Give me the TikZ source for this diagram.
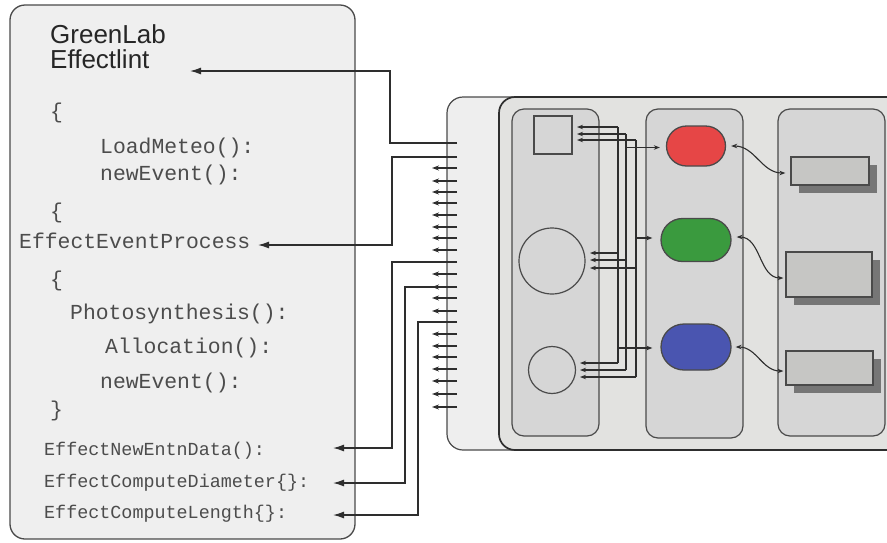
\documentclass[tikz,border=0pt]{standalone}
\usepackage{fontspec}
\setmainfont{Liberation Sans}
\setsansfont{Liberation Sans}
\setmonofont{Liberation Mono}
\usetikzlibrary{arrows.meta,calc,shapes.misc,shadows}

\definecolor{panelfill}{HTML}{EFEFEF}
\definecolor{backfill}{HTML}{EEEEEE}
\definecolor{frontfill}{HTML}{E2E2E0}
\definecolor{colfill}{HTML}{D6D6D6}
\definecolor{boxfill}{HTML}{C6C6C4}
\definecolor{shadowc}{HTML}{767676}
\definecolor{edge}{HTML}{4A4A4A}
\definecolor{wirec}{HTML}{2E2E2E}
\definecolor{codec}{HTML}{4C4C4C}
\definecolor{redov}{HTML}{E64646}
\definecolor{greenov}{HTML}{3A9A3E}
\definecolor{blueov}{HTML}{4A55B0}

\tikzset{
  wire/.style={draw=wirec, line width=1.3pt},
  bigarrow/.style={wire, -{Latex[length=11pt,width=7pt]}},
  smallarrow/.style={wire, line width=1.2pt, -{Stealth[length=6pt,width=4.5pt]}},
  tickarrow/.style={wire, line width=1.3pt, -{Stealth[length=7pt,width=5pt]}},
  bothsmall/.style={wire, line width=1.1pt, {Stealth[length=6pt,width=4.5pt]}-{Stealth[length=6pt,width=4.5pt]}},
  column/.style={draw=edge, line width=1.2pt, fill=colfill, rounded corners=12pt},
  oval/.style={rounded rectangle, draw=edge, line width=1.3pt, inner sep=0pt},
  entity/.style={draw=edge, line width=1.2pt, inner sep=0pt},
  slab/.style={draw=edge, line width=1.2pt, fill=boxfill, inner sep=0pt,
    drop shadow={shadow xshift=8pt, shadow yshift=-8pt, fill=shadowc, opacity=1}},
  code/.style={anchor=base west, inner sep=0pt, text=codec, font=\ttfamily\fontsize{21.4}{24}\selectfont},
  smallcode/.style={anchor=base west, inner sep=0pt, text=codec, font=\ttfamily\fontsize{18.4}{21}\selectfont},
  title/.style={anchor=base west, inner sep=0pt, text=black!85, font=\sffamily\fontsize{26}{28}\selectfont},
}

\begin{document}
\begin{tikzpicture}[x=1pt, y=-1pt]
\useasboundingbox (0,0) rectangle (887,542);

% ---------- code panel ----------
\draw[draw=edge, line width=1.3pt, fill=panelfill, rounded corners=15pt] (10,5) rectangle (355,539);

\node[title] (t1) at (50,43) {GreenLab};
\node[title] (t2) at (50,68) {Effectlint};
\node[code] (b1) at (50,118) {\{};
\node[code] (c1) at (100,153) {LoadMeteo():};
\node[code] (c2) at (100,180) {newEvent():};
\node[code] (b2) at (50,218) {\{};
\node[code] (c3) at (19,248) {EffectEventProcess};
\node[code] (b3) at (50,286) {\{};
\node[code] (c4) at (70,319) {Photosynthesis():};
\node[code] (c5) at (105,353) {Allocation():};
\node[code] (c6) at (100,388) {newEvent():};
\node[code] (b4) at (50,416) {\}};
\node[smallcode] (c7) at (44,455) {EffectNewEntnData():};
\node[smallcode] (c8) at (44,487) {EffectComputeDiameter\{\}:};
\node[smallcode] (c9) at (44,518) {EffectComputeLength\{\}:};

% ---------- simulator block ----------
\draw[draw=edge, line width=1.2pt, fill=backfill, rounded corners=16pt] (447,97) rectangle (930,450);
\draw[draw=wirec, line width=1.7pt, fill=frontfill, rounded corners=16pt] (499,97) rectangle (930,450);

\draw[column] (512,109) rectangle (599,436);
\draw[column] (646,109) rectangle (743,438);
\draw[column] (778,109) rectangle (885,436);

% first column: entities
\node[entity, fill=colfill, minimum size=38pt] (sq) at (553,135) {};
\node[entity, circle, minimum size=66pt] (bigc) at (552,261) {};
\node[entity, circle, minimum size=47pt] (smc) at (552,370) {};

% second column: processes
\node[oval, fill=redov, minimum width=59pt, minimum height=40pt] (red) at (696,146) {};
\node[oval, fill=greenov, minimum width=70pt, minimum height=43pt] (green) at (696,240) {};
\node[oval, fill=blueov, minimum width=70pt, minimum height=46pt] (blue) at (696,347) {};

% third column: data slabs
\node[slab, minimum width=78pt, minimum height=28pt] (r1) at (830,171) {};
\node[slab, minimum width=86pt, minimum height=45pt] (r2) at (829,274.5) {};
\node[slab, minimum width=87pt, minimum height=34pt] (r3) at (829.5,368) {};

% process <-> data links
\draw[bothsmall] ($(red.east)+(5,0)$) to[out=0,in=180] ($(r1.west)+(-5,2)$);
\draw[bothsmall] ($(green.east)+(5,-3)$) to[out=0,in=180] ($(r2.west)+(-2,3.5)$);
\draw[bothsmall] ($(blue.east)+(4,0)$) to[out=0,in=180] ($(r3.west)+(-2,3)$);

% three buses between entities and processes
\coordinate (busA) at (618,0);
\coordinate (busB) at (626,0);
\coordinate (busC) at (636,0);
\draw[wire, line width=1.2pt] (busA |- 0,127) -- (busA |- 0,363);
\draw[wire, line width=1.2pt] (busB |- 0,134) -- (busB |- 0,370);
\draw[wire, line width=1.2pt] (busC |- 0,140) -- (busC |- 0,377);

\draw[smallarrow] (busA |- 0,127) -- (577,127);
\draw[smallarrow] (busB |- 0,134) -- (577,134);
\draw[smallarrow] (busC |- 0,140) -- (577,140);
\draw[smallarrow] (busA |- 0,253) -- (590,253);
\draw[smallarrow] (busB |- 0,260) -- (590,260);
\draw[smallarrow] (busC |- 0,268) -- (590,268);
\draw[smallarrow] (busA |- 0,363) -- (580,363);
\draw[smallarrow] (busB |- 0,370) -- (580,370);
\draw[smallarrow] (busC |- 0,377) -- (580,377);

\draw[smallarrow] (busB |- 0,147.5) -- ($(red.west)+(-6,1.5)$);
\draw[smallarrow] (busC |- 0,238) -- ($(green.west)+(-8,-2)$);
\draw[smallarrow] (busA |- 0,348) -- ($(blue.west)+(-8,1)$);

% event ticks on the block edge
\foreach \ty in {168,181,192,203,215,227,238,250,274,287,298,311,334,346,357,369,381,394,407}
  \draw[tickarrow] (457,\ty) -- (432,\ty);

% links from the block back to the code
\draw[bigarrow] (457,143) -- (390,143) -- (390,71) -- (190,71);
\draw[bigarrow] (457,157) -- (392,157) -- (392,245) -- (258,245);
\draw[bigarrow] (457,262) -- (392,262) -- (392,448) -- (333,448);
\draw[bigarrow] (457,287) -- (405,287) -- (405,483) -- (333,483);
\draw[bigarrow] (457,322) -- (418,322) -- (418,515) -- (333,515);
\end{tikzpicture}
\end{document}
